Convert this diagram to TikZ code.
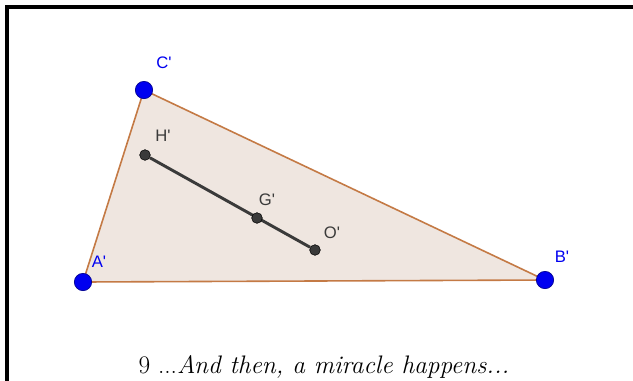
\documentclass[tikz,border=0pt]{standalone}
\usepackage{fontspec}
\newfontfamily\ptfont{Liberation Sans}
\usetikzlibrary{positioning}
\definecolor{triFill}{HTML}{EFE6E0}
\definecolor{triEdge}{HTML}{C47A45}
\definecolor{ptBlue}{HTML}{0000F0}
\definecolor{ptDark}{HTML}{3A3A3A}
\tikzset{
  vtx/.style={circle, fill=ptBlue, draw=ptBlue!60!black, line width=0.5pt, inner sep=0pt, minimum size=13pt},
  ctr/.style={circle, fill=ptDark, draw=black, line width=0.4pt, inner sep=0pt, minimum size=8pt},
  vlbl/.style={font=\ptfont\fontsize{12.5}{14}\selectfont, text=ptBlue},
  clbl/.style={font=\ptfont\fontsize{12.5}{14}\selectfont, text=ptDark},
}

\begin{document}
\begin{tikzpicture}[x=0.75pt, y=-0.75pt]
  \useasboundingbox (0,0) rectangle (633,380);
  \clip (0,0) rectangle (633,380);
  \draw[line width=2.5pt] (7,7) rectangle (660,400);
  % triangle A'B'C'
  \coordinate (a) at (83,282);
  \coordinate (b) at (545,280);
  \coordinate (c) at (144,90);
  \fill[triFill] (a) -- (b) -- (c) -- cycle;
  \draw[triEdge, line width=1.2pt] (a) -- (b) -- (c) -- cycle;
  % Euler line
  \node[ctr] (h) at (145,155) {};
  \node[ctr] (o) at (315,250) {};
  \draw[ptDark, line width=2.2pt] (h) -- (o);
  \node[ctr] (g) at (257,218) {};
  \node[vtx] (pa) at (a) {};
  \node[vtx] (pb) at (b) {};
  \node[vtx] (pc) at (c) {};
  \node[vlbl] at (164,63) {C'};
  \node[vlbl] at (99,262) {A'};
  \node[vlbl] at (562,257) {B'};
  \node[clbl] at (163,136) {H'};
  \node[clbl] at (267,200) {G'};
  \node[clbl] at (332,233) {O'};
  % caption
  \node[font=\fontsize{19}{22}\selectfont, anchor=base, inner sep=0pt] (cap) at (324,373) {9 ...\textit{And then, a miracle happens...}};
\end{tikzpicture}
\end{document}
